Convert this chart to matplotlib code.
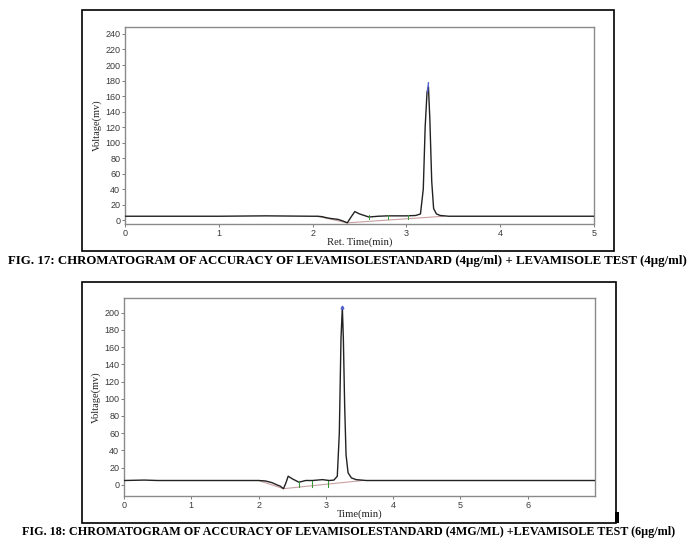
import matplotlib
matplotlib.use("Agg")
import matplotlib.pyplot as plt
from matplotlib.patches import Rectangle

# ---- Data ----
# Fig. 17 trace
t1 = [0.0, 0.5, 1.0, 1.5, 2.0, 2.05, 2.1, 2.15, 2.2, 2.27, 2.32, 2.37, 2.41, 2.45, 2.5,
      2.55, 2.6, 2.7, 2.8, 2.9, 3.0, 3.1, 3.15, 3.18, 3.2, 3.22, 3.235, 3.25, 3.27, 3.29,
      3.32, 3.36, 3.45, 4.0, 4.5, 5.0]
v1 = [5, 5, 5, 5.5, 5, 5, 4.5, 3, 2, 1, -1, -3.5, 4, 11, 8, 6, 4, 5, 5.5, 5.5, 5.5, 6,
      8, 40, 120, 165, 172, 130, 50, 15, 8, 6, 5, 5, 5, 5]
# Fig. 17 integration baseline
tb1 = [2.05, 2.37, 3.4]
vb1 = [5, -3.5, 5]
# Fig. 17 peak-split marks (time)
marks1 = [2.6, 2.8, 3.02]

# Fig. 18 trace
t2 = [0.0, 0.3, 0.5, 1.0, 1.5, 2.0, 2.1, 2.2, 2.27, 2.32, 2.37, 2.41, 2.44, 2.5, 2.55,
      2.6, 2.7, 2.8, 2.95, 3.05, 3.12, 3.17, 3.2, 3.225, 3.245, 3.26, 3.28, 3.3, 3.33,
      3.38, 3.45, 3.6, 4.0, 5.0, 6.0, 7.0]
v2 = [5, 5.5, 5, 5, 5, 5, 4.5, 2.5, 0, -1.5, -4.5, 3, 10, 7, 5, 3, 5, 5, 6, 5, 5.5, 10,
      60, 170, 206, 170, 90, 35, 14, 8, 6, 5, 5, 5, 5, 5]
tb2 = [2.0, 2.37, 3.55]
vb2 = [5, -4.5, 5]
marks2 = [2.6, 2.8, 3.03]

xticks1 = [0, 1, 2, 3, 4, 5]
yticks1 = [0, 20, 40, 60, 80, 100, 120, 140, 160, 180, 200, 220, 240]
xticks2 = [0, 1, 2, 3, 4, 5, 6]
yticks2 = [0, 20, 40, 60, 80, 100, 120, 140, 160, 180, 200]

caption1 = "FIG. 17: CHROMATOGRAM OF ACCURACY OF LEVAMISOLESTANDARD (4\u00b5g/ml) + LEVAMISOLE TEST (4\u00b5g/ml)"
caption2 = "FIG. 18: CHROMATOGRAM OF ACCURACY OF LEVAMISOLESTANDARD (4MG/ML) +LEVAMISOLE TEST (6\u00b5g/ml)"

W, H = 693, 549
fig = plt.figure(figsize=(W / 100, H / 100), dpi=100)


def fx(px):
    return px / W


def fy(py):
    return 1 - py / H


def style_ax(ax, xt, yt, xlabel):
    for s in ax.spines.values():
        s.set_color("#8a8a8a")
        s.set_linewidth(1.0)
    ax.set_xticks(xt)
    ax.set_yticks(yt)
    ax.tick_params(axis="both", length=2, width=0.6, color="#666666", pad=1.5,
                   labelsize=6.5, labelcolor="#3a3a3a")
    for lab in ax.get_xticklabels() + ax.get_yticklabels():
        lab.set_fontfamily("Liberation Sans")
    ax.set_xlabel(xlabel, fontsize=7.7, family="Liberation Serif", color="#222222", labelpad=0)
    ax.set_ylabel("Voltage(mv)", fontsize=7.5, family="Liberation Serif", color="#222222", labelpad=2)


# outer frames
fig.patches.append(Rectangle((fx(82), fy(251)), fx(614) - fx(82), fy(10) - fy(251),
                             transform=fig.transFigure, fill=False, ec="black", lw=1.2))
fig.patches.append(Rectangle((fx(82), fy(523)), fx(616) - fx(82), fy(282) - fy(523),
                             transform=fig.transFigure, fill=False, ec="black", lw=1.2))
fig.patches.append(Rectangle((fx(614.5), fy(523)), fx(4), fy(512) - fy(523),
                             transform=fig.transFigure, fill=True, fc="black", ec="none"))

# ---- top panel ----
ax1 = fig.add_axes([fx(125), fy(224), fx(594) - fx(125), fy(27) - fy(224)])
ax1.plot(tb1, vb1, color="#c8a0a0", lw=0.8, zorder=2)
ax1.plot(t1, v1, color="#222222", lw=1.0, zorder=3)
ax1.plot([3.225, 3.235], [165, 177], color="#5060d0", lw=1.0, zorder=4)
for m in marks1:
    ax1.plot([m, m], [1, 6], color="#3a9a3a", lw=0.7, zorder=4)
ax1.set_xlim(0, 5)
ax1.set_ylim(-5, 249)
style_ax(ax1, xticks1, yticks1, "Ret. Time(min)")

# ---- bottom panel ----
ax2 = fig.add_axes([fx(124), fy(496), fx(595) - fx(124), fy(298) - fy(496)])
ax2.plot(tb2, vb2, color="#c8a0a0", lw=0.8, zorder=2)
ax2.plot(t2, v2, color="#222222", lw=1.0, zorder=3)
ax2.plot([3.245], [206], marker="^", ms=2, color="#5060d0", zorder=4)
for m in marks2:
    ax2.plot([m, m], [-2, 5], color="#3a9a3a", lw=0.8, zorder=4)
ax2.set_xlim(0, 7)
ax2.set_ylim(-13, 217)
style_ax(ax2, xticks2, yticks2, "Time(min)")

# captions
fig.text(fx(347), fy(261), caption1, ha="center", va="center", fontsize=9.3,
         fontweight="bold", family="Liberation Serif")
fig.text(fx(348.5), fy(532), caption2, ha="center", va="center", fontsize=8.75,
         fontweight="bold", family="Liberation Serif")

fig.savefig("out.png", dpi=100)
